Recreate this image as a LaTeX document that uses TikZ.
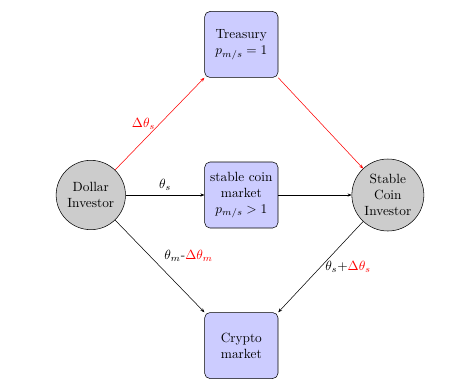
\documentclass[tikz,border=0pt]{standalone}
\usepackage{amsmath,amssymb}
\usepackage{color}
\usetikzlibrary{positioning,arrows.meta}

\begin{document}
\begin{tikzpicture}[
  market/.style={rectangle, draw, fill=blue!20, minimum width=55pt, minimum height=49.5pt, rounded corners, align=center},
  investor/.style={circle, draw, fill=gray!40, minimum size=52pt, inner sep=2.5pt, align=center},
  ->, >={Stealth[length=3pt,width=2.4pt]}
]
\useasboundingbox (-181pt,-141pt) rectangle (168.5pt,146.25pt);
\node[market] (stable) at (0,0) {stable coin\\market\\$p_{m/s}>1$};
\node[market, above=63pt of stable] (treasury) {Treasury\\$p_{m/s}=1$};
\node[market, below=63pt of stable] (crypto) {Crypto\\market};
\node[investor, left=59pt of stable] (dollar) {Dollar\\Investor};
\node[investor, right=55pt of stable] (coin) {Stable\\Coin\\Investor};

\draw (dollar) -- node[above] {$\theta_s$} (stable);
\draw (stable) -- (coin);
\draw[red] (dollar) -- node[left] {$\Delta\theta_s$} (treasury.south west);
\draw[red] (treasury.south east) -- (coin);
\draw (dollar) -- node[above right] {$\theta_m$-{\color{red}$\Delta\theta_m$}} (crypto.north west);
\draw (coin) -- node[right] {$\theta_s$+{\color{red}$\Delta\theta_s$}} (crypto.north east);
\end{tikzpicture}
\end{document}
